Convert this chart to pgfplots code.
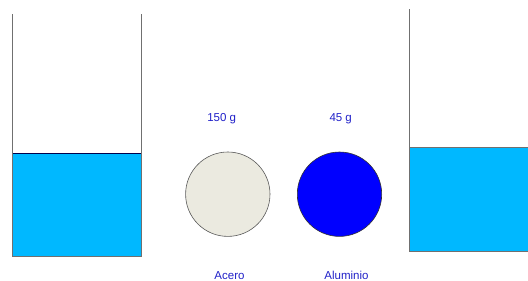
\documentclass[border=0pt]{standalone}
\usepackage{pgfplots}
\pgfplotsset{compat=1.18}
\usepackage{fontspec}
\setmainfont{Liberation Sans}
\definecolor{water}{RGB}{0,184,255}
\definecolor{wallgray}{RGB}{112,112,112}
\definecolor{steel}{RGB}{235,234,224}
\definecolor{txtblue}{RGB}{32,32,200}
\begin{document}
\begin{tikzpicture}
\begin{axis}[
  scale only axis, width=528pt, height=281pt,
  xmin=0, xmax=528, ymin=0, ymax=281, y dir=reverse,
  hide axis, clip=true,
]
% water left beaker
\addplot[fill=water, draw=black!70!blue, line width=0.8pt] coordinates {(12.3,153.3) (141.3,153.3) (141.3,256.5) (12.3,256.5)} -- cycle;
% left beaker walls
\addplot[wallgray, line width=1pt] coordinates {(12.3,14) (12.3,256.5) (141.3,256.5) (141.3,14)};
% water right beaker
\addplot[fill=water, draw=none] coordinates {(409.3,147) (529,147) (529,251) (409.3,251)} -- cycle;
\addplot[wallgray, line width=0.8pt] coordinates {(409.3,147) (529,147)};
% right beaker walls
\addplot[wallgray, line width=1pt] coordinates {(409.3,9) (409.3,251) (529,251)};
% spheres
\addplot[only marks, mark=*, mark size=42.2pt, mark options={fill=steel, draw=black!65, line width=0.6pt}] coordinates {(227.8,194.2)};
\addplot[only marks, mark=*, mark size=42.2pt, mark options={fill=blue, draw=black!80, line width=0.6pt}] coordinates {(339.5,194.2)};
% labels
\node[txtblue, font=\fontsize{11.5}{13}\selectfont] at (axis cs:221.7,119) {150 g};
\node[txtblue, font=\fontsize{11.5}{13}\selectfont] at (axis cs:340.7,119) {45 g};
\node[txtblue, font=\fontsize{11.5}{13}\selectfont] at (axis cs:229.5,275.5) {Acero};
\node[txtblue, font=\fontsize{11.5}{13}\selectfont] at (axis cs:346.5,275.5) {Aluminio};
\end{axis}
\pgfresetboundingbox
\path (current axis.south west) rectangle (current axis.north east);
\end{tikzpicture}
\end{document}
